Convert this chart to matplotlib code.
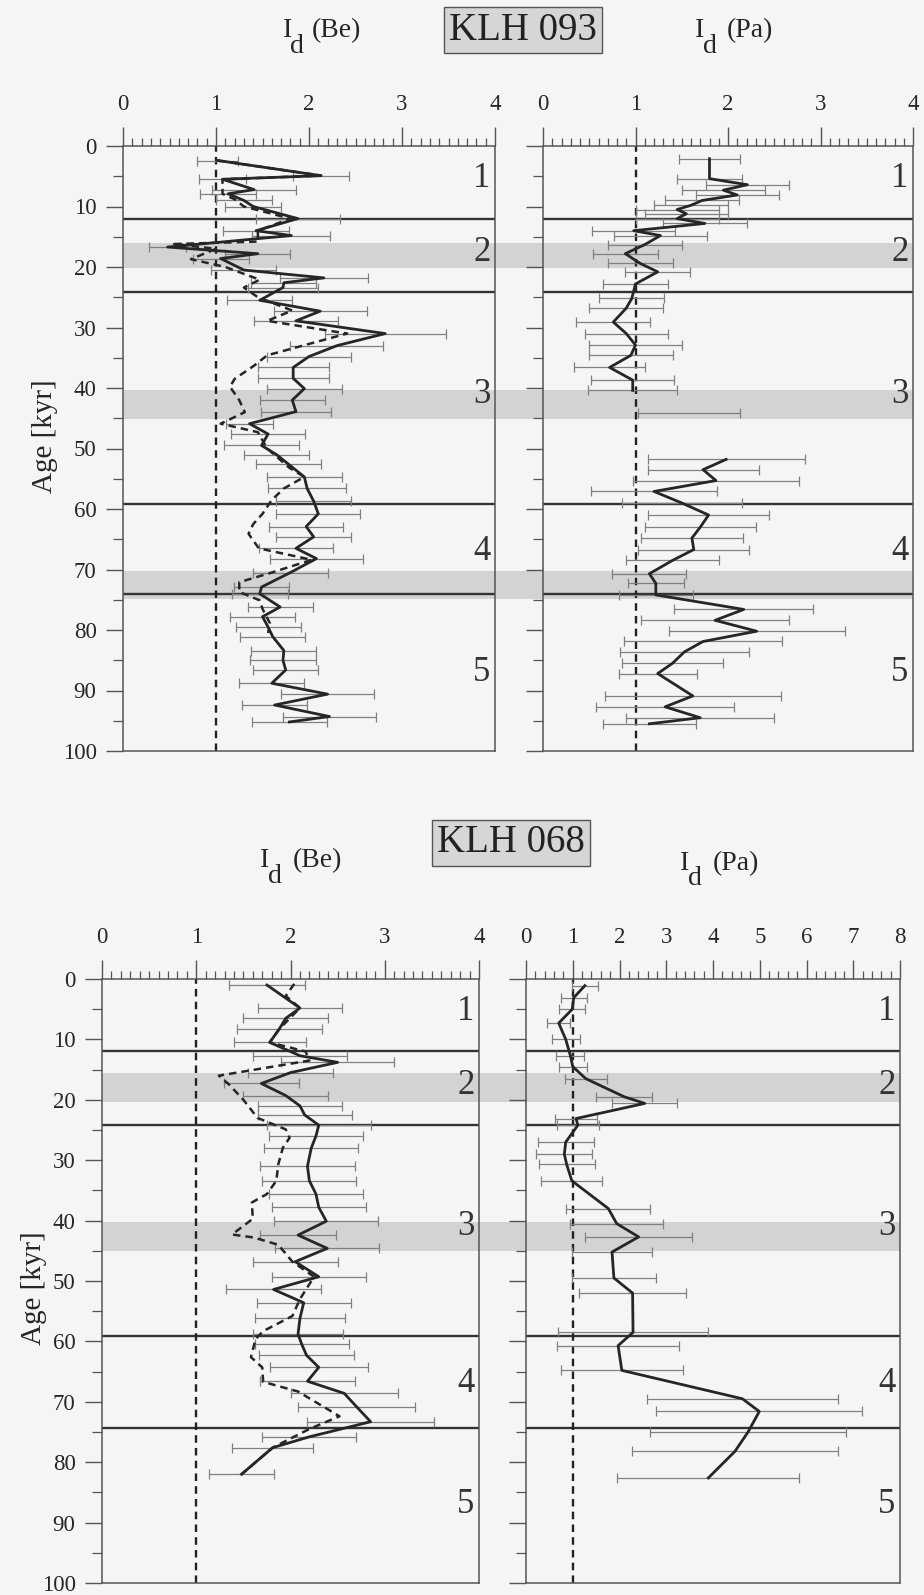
import numpy as np
import matplotlib
matplotlib.use('Agg')
import matplotlib.pyplot as plt
from matplotlib.ticker import MultipleLocator
from matplotlib.patches import Rectangle
import matplotlib.transforms as mtransforms

# ---------------- data ----------------
# stage boundaries / shaded intervals (kyr)
stage_lines_093 = [12.0, 24.1, 59.2, 74.1]
bands_093 = [(16.1, 20.2), (40.3, 45.2), (70.2, 74.9)]
stage_lines_068 = [11.9, 24.2, 59.1, 74.3]
bands_068 = [(15.6, 20.3), (40.2, 45.1)]
stage_names = ['1', '2', '3', '4', '5']
stage_label_ages = [5.3, 17.6, 41.0, 67.0, 87.0]

# KLH 093  I_d(Be)  solid (with errors)
be093_age = [2.4, 4.9, 5.5, 7.2, 7.9, 9.0, 10.0, 12.0, 14.0, 14.8, 16.7, 17.8, 18.6, 20.5,
             21.8, 22.6, 23.4, 25.5, 27.3, 28.9, 31.0, 33.0, 34.8, 36.6, 38.4, 40.1, 42.0,
             43.9, 45.9, 47.6, 49.5, 51.0, 52.6, 54.7, 56.6, 58.7, 60.8, 62.9, 64.6, 66.5,
             68.2, 70.5, 72.9, 74.0, 76.2, 77.8, 79.5, 81.1, 83.4, 85.0, 86.6, 88.8, 90.6,
             92.4, 94.3, 95.2]
be093_val = [1.02, 2.13, 1.07, 1.41, 1.13, 1.30, 1.40, 1.88, 1.43, 1.81, 0.48, 1.45, 1.05, 1.30,
             2.16, 1.73, 1.72, 1.47, 2.12, 1.86, 2.82, 2.30, 2.00, 1.83, 1.83, 1.95, 1.82,
             1.86, 1.36, 1.56, 1.49, 1.65, 1.78, 1.95, 1.98, 2.05, 2.10, 1.97, 2.05, 1.86,
             2.08, 1.80, 1.49, 1.47, 1.69, 1.50, 1.56, 1.61, 1.73, 1.72, 1.75, 1.60, 2.20,
             1.63, 2.22, 1.79]
be093_err = [0.22, 0.30, 0.25, 0.45, 0.30, 0.30, 0.30, 0.45, 0.35, 0.42, 0.20, 0.35, 0.30, 0.35,
             0.47, 0.35, 0.38, 0.35, 0.50, 0.45, 0.65, 0.50, 0.45, 0.38, 0.38, 0.40, 0.35,
             0.38, 0.25, 0.40, 0.40, 0.35, 0.35, 0.40, 0.42, 0.40, 0.45, 0.40, 0.40, 0.40,
             0.50, 0.40, 0.30, 0.30, 0.35, 0.35, 0.35, 0.35, 0.35, 0.35, 0.35, 0.35, 0.50,
             0.35, 0.50, 0.40]
# KLH 093  I_d(Be)  dashed
be093d_age = [2.4, 4.9, 5.5, 7.9, 8.8, 10.0, 12.0, 14.0, 15.8, 16.2, 17.0, 18.7, 20.0, 22.1,
              23.4, 25.0, 27.2, 28.9, 31.0, 34.6, 36.3, 38.5, 39.8, 42.0, 44.0, 45.9, 47.3,
              50.0, 53.2, 54.7, 56.6, 58.5, 60.8, 62.5, 64.1, 66.5, 68.4, 70.5, 72.1, 73.7,
              75.1, 76.5, 78.9, 80.5]
be093d_val = [1.02, 2.13, 1.07, 1.07, 1.20, 1.30, 1.80, 1.45, 1.45, 0.55, 1.00, 0.73, 1.10, 1.47,
              1.30, 1.45, 1.82, 1.55, 2.41, 1.55, 1.41, 1.20, 1.15, 1.25, 1.31, 1.05, 1.45,
              1.55, 1.79, 1.95, 1.73, 1.60, 1.50, 1.40, 1.35, 1.46, 2.03, 1.60, 1.25, 1.25,
              1.47, 1.50, 1.58, 1.56]

# KLH 093  I_d(Pa)
pa093a_age = [2.1, 5.4, 6.4, 7.3, 8.1, 9.0, 9.8, 10.5, 11.2, 12.0, 12.8, 14.0, 14.8, 16.3,
              17.8, 19.4, 20.8, 22.8, 25.2, 26.8, 29.1, 31.0, 32.9, 34.6, 36.6, 38.7, 40.4]
pa093a_val = [1.80, 1.80, 2.21, 1.95, 2.10, 1.72, 1.60, 1.45, 1.55, 1.45, 1.75, 0.98, 1.27, 1.10,
              0.89, 1.05, 1.24, 1.00, 0.96, 0.90, 0.76, 0.90, 1.00, 0.95, 0.72, 0.97, 0.97]
pa093a_err = [0.33, 0.35, 0.45, 0.45, 0.45, 0.40, 0.40, 0.45, 0.45, 0.45, 0.45, 0.45, 0.50, 0.40,
              0.35, 0.35, 0.35, 0.35, 0.35, 0.40, 0.40, 0.45, 0.50, 0.45, 0.38, 0.45, 0.48]
pa093s_age = [44.2]
pa093s_val = [1.58]
pa093s_err = [0.55]
pa093b_age = [51.8, 53.5, 55.3, 57.1, 59.0, 61.0, 63.0, 64.8, 66.7, 68.5, 70.7, 72.3, 74.2,
              76.6, 78.4, 80.2, 81.9, 83.6, 85.5, 87.2, 90.9, 92.7, 94.5, 95.5]
pa093b_val = [1.98, 1.73, 1.87, 1.20, 1.50, 1.79, 1.70, 1.61, 1.63, 1.40, 1.15, 1.22, 1.22,
              2.17, 1.86, 2.31, 1.73, 1.53, 1.40, 1.24, 1.62, 1.32, 1.70, 1.15]
pa093b_err = [0.85, 0.60, 0.90, 0.68, 0.65, 0.65, 0.60, 0.55, 0.60, 0.50, 0.40, 0.30, 0.40,
              0.75, 0.80, 0.95, 0.85, 0.70, 0.55, 0.42, 0.95, 0.75, 0.80, 0.50]

# KLH 068  I_d(Be) solid
be068_age = [1.0, 4.8, 6.5, 8.3, 10.5, 12.7, 13.8, 15.5, 17.3, 19.3, 21.0, 22.5, 24.2, 26.0,
             28.0, 31.0, 33.4, 35.6, 37.8, 40.1, 42.4, 44.6, 46.8, 49.3, 51.4, 53.6, 56.2,
             58.8, 60.5, 62.3, 64.3, 66.6, 68.6, 70.8, 73.3, 75.8, 77.6, 82.0]
be068_val = [1.75, 2.10, 1.95, 1.88, 1.78, 2.10, 2.50, 2.00, 1.69, 1.95, 2.10, 2.15, 2.30, 2.27,
             2.22, 2.18, 2.20, 2.27, 2.30, 2.38, 2.08, 2.39, 2.05, 2.30, 1.82, 2.14, 2.10,
             2.08, 2.12, 2.17, 2.30, 2.18, 2.57, 2.70, 2.85, 2.20, 1.81, 1.48]
be068_err = [0.40, 0.45, 0.45, 0.45, 0.38, 0.50, 0.60, 0.45, 0.40, 0.45, 0.45, 0.50, 0.55, 0.50,
             0.50, 0.50, 0.50, 0.50, 0.50, 0.55, 0.40, 0.55, 0.45, 0.50, 0.50, 0.50, 0.48,
             0.48, 0.50, 0.50, 0.52, 0.50, 0.57, 0.62, 0.67, 0.50, 0.43, 0.35]
# KLH 068  I_d(Be) dashed
be068d_age = [0.8, 2.8, 4.8, 8.3, 10.5, 12.0, 13.5, 16.0, 17.5, 20.0, 23.0, 24.9, 26.3, 27.9,
              30.7, 33.4, 35.6, 37.0, 39.7, 42.3, 42.8, 44.0, 46.8, 49.3, 53.0, 55.8, 58.3,
              59.6, 62.6, 64.3, 66.7, 68.3, 72.4, 74.5, 77.6, 82.0]
be068d_val = [2.04, 1.95, 2.10, 1.88, 1.78, 2.16, 2.20, 1.24, 1.35, 1.50, 1.65, 1.95, 1.99, 1.92,
              1.87, 1.85, 1.75, 1.59, 1.60, 1.38, 1.61, 1.87, 2.02, 2.25, 2.10, 2.02, 1.71,
              1.63, 1.58, 1.70, 1.71, 2.08, 2.52, 2.20, 1.81, 1.48]

# KLH 068  I_d(Pa)
pa068_age = [1.1, 3.1, 5.0, 7.3, 10.0, 12.7, 14.5, 16.5, 19.5, 20.6, 23.1, 24.2, 27.0, 29.0,
             30.7, 33.4, 38.0, 40.5, 42.7, 45.2, 49.5, 52.0, 58.5, 60.7, 64.8, 69.5, 71.6,
             75.0, 78.2, 82.6]
pa068_val = [1.26, 1.02, 0.99, 0.70, 0.85, 0.95, 1.00, 1.28, 2.10, 2.54, 1.07, 1.11, 0.85, 0.82,
             0.87, 0.98, 1.76, 1.94, 2.41, 1.84, 1.88, 2.28, 2.29, 1.97, 2.05, 4.63, 4.99,
             4.75, 4.47, 3.90]
pa068_err = [0.28, 0.28, 0.28, 0.25, 0.30, 0.30, 0.30, 0.45, 0.60, 0.70, 0.45, 0.45, 0.60, 0.60,
             0.60, 0.65, 0.90, 1.00, 1.15, 0.85, 0.90, 1.15, 1.60, 1.30, 1.30, 2.05, 2.20,
             2.10, 2.20, 1.95]

# ---------------- figure ----------------
plt.rcParams['font.family'] = ['Liberation Serif', 'DejaVu Serif']
W, H = 924, 1595
BG = '#f5f5f5'
INK = '#262626'
FRAME = '#555555'
fig = plt.figure(figsize=(W / 100, H / 100), dpi=100, facecolor=BG)


def px_axes(l, t, r, b):
    return fig.add_axes([l / W, 1 - b / H, (r - l) / W, (b - t) / H])


def style(ax, xmax, minor, ylabels):
    ax.set_facecolor('none')
    ax.set_xlim(0, xmax)
    ax.set_ylim(100, 0)
    ax.xaxis.tick_top()
    ax.xaxis.set_major_locator(MultipleLocator(1))
    ax.xaxis.set_minor_locator(MultipleLocator(minor))
    ax.yaxis.set_major_locator(MultipleLocator(10))
    ax.yaxis.set_minor_locator(MultipleLocator(5))
    ax.tick_params(axis='x', which='major', length=14, width=1.0, pad=8,
                   labelsize=16.5, color=FRAME, labelcolor=INK)
    ax.tick_params(axis='x', which='minor', length=6, width=0.9, color=FRAME)
    ax.tick_params(axis='y', which='major', length=12, width=1.0, pad=7,
                   labelsize=16.5, color=FRAME, labelcolor=INK, labelleft=ylabels)
    ax.tick_params(axis='y', which='minor', length=7, width=0.9, color=FRAME)
    for s in ax.spines.values():
        s.set_color(FRAME)
        s.set_linewidth(1.1)


def decorate(ax, lines):
    for a in lines:
        ax.axhline(a, color='#333333', lw=1.7, zorder=2)
    ax.axvline(1, color='#222222', lw=1.7, dashes=(3.2, 2.2), zorder=2)
    tr = mtransforms.blended_transform_factory(ax.transAxes, ax.transData)
    for name, a in zip(stage_names, stage_label_ages):
        ax.text(0.988, a, name, transform=tr, ha='right', va='center',
                fontsize=25, color='#333333')


def series(ax, age, val, err=None, dashed=False):
    if err is not None:
        ax.errorbar(val, age, xerr=err, fmt='none', ecolor='#808080',
                    elinewidth=0.9, capsize=3.5, capthick=0.9, zorder=3)
    if dashed:
        ax.plot(val, age, color=INK, lw=1.8, dashes=(3.0, 2.0), zorder=4)
    else:
        ax.plot(val, age, color=INK, lw=2.0, zorder=5)


def bands(ax_left, ax_right, spans):
    x0 = ax_left.get_position().x0
    x1 = ax_right.get_position().x1
    tr = mtransforms.blended_transform_factory(fig.transFigure, ax_left.transData)
    for a, b in spans:
        fig.add_artist(Rectangle((x0, a), x1 - x0, b - a, transform=tr,
                                 facecolor='#d3d3d3', edgecolor='none', zorder=-1))


def title(xI, xd, xp, yb, yd, paren):
    fig.text(xI / W, 1 - yb / H, 'I', fontsize=20, color=INK, ha='left', va='baseline')
    fig.text(xd / W, 1 - yd / H, 'd', fontsize=20, color=INK, ha='left', va='baseline')
    fig.text(xp / W, 1 - yb / H, paren, fontsize=20, color=INK, ha='left', va='baseline')


# ----- KLH 093 -----
axA = px_axes(123, 146, 495, 751)
axB = px_axes(543, 146, 913, 751)
style(axA, 4, 0.1, True)
style(axB, 4, 0.1, False)
decorate(axA, stage_lines_093)
decorate(axB, stage_lines_093)
bands(axA, axB, bands_093)
series(axA, be093_age, be093_val, be093_err)
series(axA, be093d_age, be093d_val, dashed=True)
series(axB, pa093a_age, pa093a_val, pa093a_err)
series(axB, pa093b_age, pa093b_val, pa093b_err)
axB.errorbar(pa093s_val, pa093s_age, xerr=pa093s_err, fmt='none', ecolor='#808080',
             elinewidth=0.9, capsize=3.5, capthick=0.9, zorder=3)

# ----- KLH 068 -----
axC = px_axes(102, 979, 479, 1583)
axD = px_axes(526, 979, 900, 1583)
style(axC, 4, 0.1, True)
style(axD, 8, 0.2, False)
decorate(axC, stage_lines_068)
decorate(axD, stage_lines_068)
bands(axC, axD, bands_068)
series(axC, be068_age, be068_val, be068_err)
series(axC, be068d_age, be068d_val, dashed=True)
series(axD, pa068_age, pa068_val, pa068_err)

# ----- labels -----
fig.text(45 / W, 1 - 436 / H, 'Age [kyr]', rotation=90, fontsize=21, color=INK,
         ha='center', va='center')
fig.text(34 / W, 1 - 1288 / H, 'Age [kyr]', rotation=90, fontsize=21, color=INK,
         ha='center', va='center')

title(283, 290, 312, 37, 53, '(Be)')
title(695, 703, 727, 37, 53, '(Pa)')
title(260, 268, 293, 867, 883, '(Be)')
title(680, 688, 713, 870, 885, '(Pa)')

box = dict(boxstyle='square,pad=0.12', fc='#d6d6d6', ec='#555555', lw=1.0)
fig.text(523 / W, 1 - 30 / H, 'KLH 093', fontsize=28, color='#222222',
         ha='center', va='center', bbox=box)
fig.text(511 / W, 1 - 843 / H, 'KLH 068', fontsize=28, color='#222222',
         ha='center', va='center', bbox=box)

fig.savefig('out.png', dpi=100, facecolor=BG)
